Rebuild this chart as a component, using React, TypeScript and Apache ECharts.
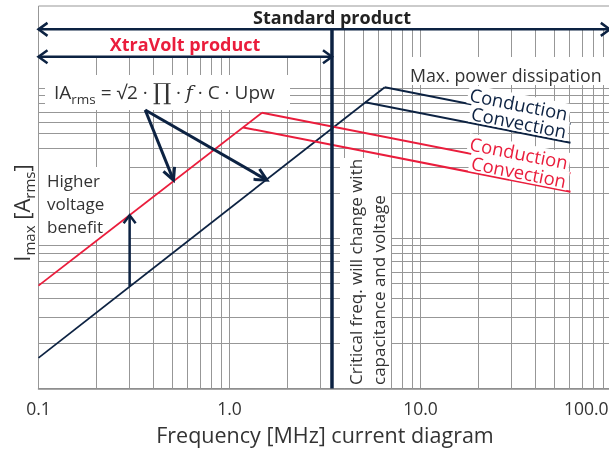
import React, { useEffect, useRef } from 'react';
import * as echarts from 'echarts';

// ---- axes ----
const xMin = 0.1;
const xMax = 100;
const yMin = 1;
const yMax = 355;
const xMinorTicks = [0.2, 0.3, 0.4, 0.5, 0.6, 0.7, 0.8, 0.9, 2, 3, 4, 5, 6, 7, 8, 9, 20, 30, 40, 50, 60, 70, 80, 90];
const yMinorTicks = [2, 3, 4, 5, 6, 7, 8, 9, 20, 30, 40, 50, 60, 70, 80, 90];

// ---- curves (frequency MHz, current) ----
const standardRise = [[0.1, 1.6], [6.5, 102]];
const standardConduction = [[6.5, 102], [61, 58]];
const standardConvection = [[5.13, 81], [61, 43.5]];
const xtraRise = [[0.1, 4.85], [1.48, 69]];
const xtraConduction = [[1.48, 69], [61, 27.2]];
const xtraConvection = [[1.18, 55], [61, 20.5]];

// ---- annotations ----
const criticalFreq = 3.44;
const standardSpan = [0.1, 98];
const standardLevel = 248;
const xtraSpan = [0.1, 3.44];
const xtraLevel = 163;
const benefitFreq = 0.3;
const benefitRange = [4.79, 14.3];
const formulaOrigin = [0.362, 71.9];
const formulaTargets = [[0.509, 24.5], [1.57, 24.5]];
const labelFreq = 32;

const NAVY = '#0c2242';
const RED = '#ea1d3c';
const GRID = '#979797';
const TEXT = '#333333';
const FONT = '"Open Sans", sans-serif';

export default function App() {
  const ref = useRef<HTMLDivElement>(null);
  useEffect(() => {
    const chart = echarts.init(ref.current!, undefined, { renderer: 'svg' });
    const line = (name: string, data: number[][], color: string, width: number) => ({
      type: 'line', name, data, symbol: 'none', silent: true, z: 3,
      lineStyle: { color, width, cap: 'butt' }, animation: false,
    });
    const option: any = {
      animation: false,
      grid: { left: 38.5, right: -2.5, top: 6, bottom: 61.5, show: true, borderColor: GRID, borderWidth: 1, outerBoundsMode: 'none' },
      xAxis: {
        type: 'log', min: xMin, max: xMax, logBase: 10,
        axisLine: { show: true, lineStyle: { color: '#8c8c8c', width: 1.5 } },
        axisTick: { show: false },
        splitLine: { show: true, lineStyle: { color: GRID, width: 1 } },
        axisLabel: {
          color: TEXT, fontSize: 17.5, fontFamily: FONT, margin: 10,
          alignMaxLabel: 'right',
          formatter: (v: number) => (v >= 99 ? '{m|100.0}' : v.toFixed(1)),
          rich: { m: { fontSize: 17.5, fontFamily: FONT, color: TEXT, padding: [0, 3, 0, 0] } },
        },
        name: 'Frequency [MHz] current diagram', nameLocation: 'middle', nameGap: 35,
        nameTextStyle: { color: TEXT, fontSize: 21.5, fontFamily: FONT },
      },
      yAxis: {
        type: 'log', min: yMin, max: yMax, logBase: 10,
        axisLine: { show: false }, axisTick: { show: false }, axisLabel: { show: false },
        splitLine: { show: true, lineStyle: { color: GRID, width: 1 } },
      },
      series: [
        {
          type: 'line', name: 'grid', data: [[xMin, yMin]], symbol: 'none', silent: true, z: 1,
          lineStyle: { opacity: 0 },
          markLine: {
            z: 1, silent: true, symbol: ['none', 'none'], label: { show: false }, animation: false,
            lineStyle: { color: GRID, width: 1, type: 'solid' },
            emphasis: { disabled: true },
            data: [
              ...xMinorTicks.map((v) => ({ xAxis: v })),
              ...yMinorTicks.map((v) => ({ yAxis: v })),
            ],
          },
        },
        line('standardRise', standardRise, NAVY, 1.8),
        line('standardConduction', standardConduction, NAVY, 2),
        line('standardConvection', standardConvection, NAVY, 2),
        line('xtraRise', xtraRise, RED, 1.8),
        line('xtraConduction', xtraConduction, RED, 2),
        line('xtraConvection', xtraConvection, RED, 2),
        line('critical', [[criticalFreq, yMin], [criticalFreq, standardLevel]], NAVY, 3.5),
        line('standardArrow', [[standardSpan[0], standardLevel], [standardSpan[1], standardLevel]], NAVY, 2.5),
        line('xtraArrow', [[xtraSpan[0], xtraLevel], [xtraSpan[1], xtraLevel]], NAVY, 2.5),
        line('benefit', [[benefitFreq, benefitRange[0]], [benefitFreq, benefitRange[1]]], NAVY, 2.5),
        ...formulaTargets.map((t, i) => line('formula' + i, [formulaOrigin, t], NAVY, 3)),
      ],
    };
    chart.setOption(option);

    const px = (p: number[]) => chart.convertToPixel({ gridIndex: 0 }, p) as number[];
    const head = (tip: number[], from: number[], len: number, half: number, width: number) => {
      const dx = tip[0] - from[0];
      const dy = tip[1] - from[1];
      const L = Math.hypot(dx, dy);
      const ux = dx / L;
      const uy = dy / L;
      const bx = tip[0] - ux * len;
      const by = tip[1] - uy * len;
      return {
        type: 'polyline', z: 6, silent: true,
        shape: { points: [[bx - uy * half, by + ux * half], [tip[0], tip[1]], [bx + uy * half, by - ux * half]] },
        style: { stroke: NAVY, lineWidth: width, fill: null, lineJoin: 'miter' },
      };
    };
    const box = (x: number, y: number, w: number, h: number) => ({
      type: 'rect', z: 2, silent: true, shape: { x, y, width: w, height: h }, style: { fill: '#ffffff' },
    });
    const onLine = (seg: number[][], f: number) => {
      const t = (Math.log10(f) - Math.log10(seg[0][0])) / (Math.log10(seg[1][0]) - Math.log10(seg[0][0]));
      return Math.pow(10, Math.log10(seg[0][1]) + t * (Math.log10(seg[1][1]) - Math.log10(seg[0][1])));
    };
    const lineLabel = (text: string, seg: number[][], color: string, off: number) => {
      const a = px(seg[0]);
      const b = px(seg[1]);
      const ang = Math.atan2(b[1] - a[1], b[0] - a[0]);
      const p = px([labelFreq, onLine(seg, labelFreq)]);
      return {
        type: 'text', z: 6, silent: true,
        x: p[0] + Math.sin(ang) * off, y: p[1] - Math.cos(ang) * off, rotation: -ang,
        style: {
          text, fill: color, fontSize: 18.5, fontFamily: FONT, align: 'center', verticalAlign: 'middle',
          backgroundColor: '#ffffff', padding: [0, 2],
        },
      };
    };

    const sL = px([standardSpan[0], standardLevel]);
    const sR = px([standardSpan[1], standardLevel]);
    const xL = px([xtraSpan[0], xtraLevel]);
    const xR = px([xtraSpan[1], xtraLevel]);
    const bB = px([benefitFreq, benefitRange[0]]);
    const bT = px([benefitFreq, benefitRange[1]]);
    const fO = px(formulaOrigin);
    const fT = formulaTargets.map(px);

    const graphic: any[] = [
      box(39, 6.5, 570, sL[1] - 6.5),
      box(39, sL[1], xR[0] - 39, xL[1] - sL[1] + 1),
      box(45, 75, 245, 35),
      box(404, 57, 205, 28),
      box(39, 167, 90, 73),
      box(340, 158, 51, 230),
      head(sL, sR, 9, 6.5, 2.5),
      head(sR, sL, 9, 6.5, 2.5),
      head(xL, xR, 9, 6.5, 2.5),
      head(xR, xL, 9, 6.5, 2.5),
      head(bT, bB, 8, 6, 2.5),
      ...fT.map((t) => head(t, fO, 12, 6, 3)),
      {
        type: 'text', z: 6, silent: true, x: 332, y: 17,
        style: { text: 'Standard product', fill: '#222222', fontSize: 18, fontWeight: 'bold', fontFamily: FONT, align: 'center', verticalAlign: 'middle' },
      },
      {
        type: 'text', z: 6, silent: true, x: 185, y: 44,
        style: { text: 'XtraVolt product', fill: RED, fontSize: 18, fontWeight: 'bold', fontFamily: FONT, align: 'center', verticalAlign: 'middle' },
      },
      {
        type: 'text', z: 6, silent: true, x: 54, y: 92,
        style: {
          text: '{n|IA}{s|rms}{n| = √2 · }{p|∏}{n| · }{f|f}{n| · C · Upw}',
          align: 'left', verticalAlign: 'middle',
          rich: {
            n: { fontSize: 19, fontFamily: FONT, fill: TEXT, lineHeight: 28 },
            s: { fontSize: 13.5, fontFamily: FONT, fill: TEXT, lineHeight: 13, verticalAlign: 'bottom' },
            p: { fontSize: 23, fontFamily: '"DejaVu Serif", serif', fill: TEXT, lineHeight: 28 },
            f: { fontSize: 19, fontFamily: '"DejaVu Serif", serif', fontStyle: 'italic', fill: TEXT, lineHeight: 28 },
          },
        },
      },
      {
        type: 'text', z: 6, silent: true, x: 410, y: 75,
        style: { text: 'Max. power dissipation', fill: TEXT, fontSize: 17.8, fontFamily: FONT, align: 'left', verticalAlign: 'middle' },
      },
      {
        type: 'text', z: 6, silent: true, x: 47, y: 203,
        style: { text: 'Higher\nvoltage\nbenefit', fill: TEXT, fontSize: 17, lineHeight: 23, fontFamily: FONT, align: 'left', verticalAlign: 'middle' },
      },
      {
        type: 'text', z: 6, silent: true, x: 343.5, y: 385, rotation: Math.PI / 2,
        style: {
          text: 'Critical freq. will change with\ncapacitance and voltage', fill: TEXT, fontSize: 17, lineHeight: 23,
          fontFamily: FONT, align: 'left', verticalAlign: 'top',
        },
      },
      {
        type: 'text', z: 6, silent: true, x: 21, y: 213, rotation: Math.PI / 2,
        style: {
          text: '{n|I}{s|max}{n| [A}{s|rms}{n|]}', align: 'center', verticalAlign: 'middle',
          rich: {
            n: { fontSize: 22, fontFamily: FONT, fill: TEXT, lineHeight: 30 },
            s: { fontSize: 15, fontFamily: FONT, fill: TEXT, lineHeight: 15, verticalAlign: 'bottom' },
          },
        },
      },
      lineLabel('Conduction', standardConduction, NAVY, 10),
      lineLabel('Convection', standardConvection, NAVY, 10.5),
      lineLabel('Conduction', xtraConduction, RED, 10.5),
      lineLabel('Convection', xtraConvection, RED, 10),
    ];
    chart.setOption({ graphic });

    return () => chart.dispose();
  }, []);
  return <div ref={ref} style={{ position: 'fixed', left: 0, top: 0, width: 609, height: 450 }} />;
}
